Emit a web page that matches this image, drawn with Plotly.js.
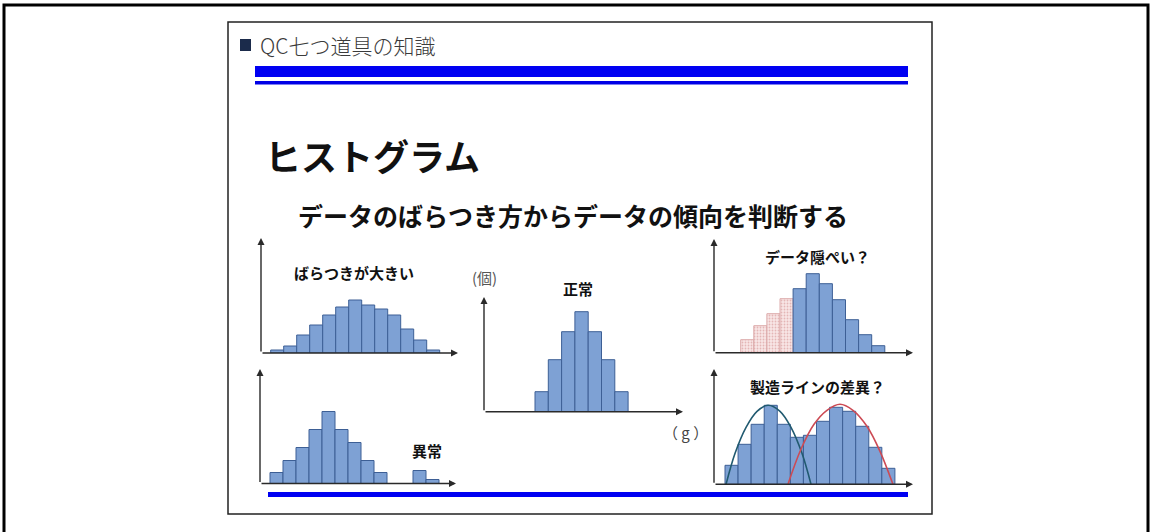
<!DOCTYPE html>
<html><head><meta charset="utf-8">
<script src="https://cdn.plot.ly/plotly-3.0.1.min.js"></script>
<style>html,body{margin:0;padding:0;background:#fff}#chart{width:1152px;height:532px}</style>
</head><body><div id="chart"></div>
<script>
// ---------- data (heights) ----------
const spreadX = [0,1,2,3,4,5,6,7,8,9,10,11,12];
const spreadValues = [3,7,18,28,38,46,53,48,44,38,24,13,3];
const outlierX = [0,1,2,3,4,5,6,7,8,9,10,11,12];
const outlierValues = [11,23,36,54,72,54,41,23,11,0,0,13,4];
const normalX = [0,1,2,3,4,5,6];
const normalValues = [20,52,80,100,80,52,20];
const hiddenX = [0,1,2,3];
const hiddenValues = [13,27,39,54];
const shownX = [4,5,6,7,8,9,10];
const shownValues = [64,79,69,53,33,18,7];
const linesX = [0,1,2,3,4,5,6,7,8,9,10,11,12];
const linesValues = [19,40,60,79,60,47,49,63,77,73,58,37,16];
const curveAX = [-0.42,0.27,1.11,1.95,2.79,3.71,4.55,5.39,6.08];
const curveAY = [0,31,57,73,79,73,57,31,0];
const curveBX = [4.32,5.31,6.31,7.30,8.30,9.29,10.36,11.36,12.35];
const curveBY = [0,35,60,74,80,74,58,33,0];

const headerText = "QC七つ道具の知識";
const titleText = "ヒストグラム";
const subtitleText = "データのばらつき方からデータの傾向を判断する";
const panelLabels = ["ばらつきが大きい","異常","正常","データ隠ぺい？","製造ラインの差異？"];
const unitY = "(個)";
const unitX = "（ g ）";

// ---------- layout geometry ----------
const W = 1152, H = 532;
const px = p => p / W, py = p => 1 - p / H;
const panels = [
  {ax:261, tip:458, top:238, base:353, start:270.7, w:13.0},
  {ax:260, tip:456, top:369, base:483.5, start:270.0, w:13.0},
  {ax:484, tip:683, top:297, base:411.7, start:535.0, w:13.3},
  {ax:714, tip:913, top:239, base:352.7, start:740.7, w:13.1},
  {ax:714, tip:913, top:369, base:484.3, start:725.0, w:13.07}
];

const BLUE = '#7ea1d4', EDGE = '#3d5f95';
const barMarker = {color: BLUE, line: {color: EDGE, width: 1}};
const traces = [];
function bars(i, x, y, marker) {
  traces.push({type:'bar', x:x, y:y, width:1, marker:marker,
    xaxis:'x'+(i===1?'':i), yaxis:'y'+(i===1?'':i), hoverinfo:'skip'});
}
bars(1, spreadX, spreadValues, barMarker);
bars(2, outlierX, outlierValues, barMarker);
bars(3, normalX, normalValues, barMarker);
bars(4, hiddenX, hiddenValues, {color:'#f8e6e6',
  pattern:{shape:'.', fgcolor:'#d08585', size:3, solidity:0.3, fillmode:'overlay'},
  line:{color:'#dcaaaa', width:1}});
bars(4, shownX, shownValues, barMarker);
bars(5, linesX, linesValues, barMarker);
traces.push({type:'scatter', mode:'lines', x:curveAX, y:curveAY, xaxis:'x5', yaxis:'y5',
  line:{color:'#215a70', width:1.6, shape:'spline'}, hoverinfo:'skip'});
traces.push({type:'scatter', mode:'lines', x:curveBX, y:curveBY, xaxis:'x5', yaxis:'y5',
  line:{color:'#cc4b55', width:1.6, shape:'spline'}, hoverinfo:'skip'});

const layout = {
  width: W, height: H, margin: {l:0, r:0, t:0, b:0},
  paper_bgcolor: '#fff', plot_bgcolor: 'rgba(0,0,0,0)',
  showlegend: false, barmode: 'overlay', bargap: 0,
  font: {family: '"Noto Sans CJK JP", "Noto Sans", sans-serif', color: '#111'},
  shapes: [], annotations: []
};
const hiddenAxis = {showgrid:false, zeroline:false, showline:false, showticklabels:false, ticks:'', fixedrange:true};
panels.forEach((p, k) => {
  const i = k + 1, sfx = i === 1 ? '' : i;
  const x0 = -0.5 - (p.start - p.ax) / p.w;
  const x1 = x0 + (p.tip - p.ax) / p.w;
  layout['xaxis'+sfx] = Object.assign({}, hiddenAxis, {domain:[px(p.ax), px(p.tip)], range:[x0, x1], anchor:'y'+sfx});
  layout['yaxis'+sfx] = Object.assign({}, hiddenAxis, {domain:[py(p.base), py(p.top)], range:[0, p.base - p.top], anchor:'x'+sfx});
  layout.annotations.push({xref:'paper', yref:'paper', x:px(p.tip), y:py(p.base), ax:-(p.tip - p.ax), ay:0,
    text:'', showarrow:true, arrowhead:2, arrowsize:1, arrowwidth:1.4, arrowcolor:'#2a2a2a'});
  layout.annotations.push({xref:'paper', yref:'paper', x:px(p.ax), y:py(p.top), ax:0, ay:(p.base - p.top),
    text:'', showarrow:true, arrowhead:2, arrowsize:1, arrowwidth:1.4, arrowcolor:'#2a2a2a'});
});

function rect(x0, y0, x1, y1, fill, line) {
  layout.shapes.push({type:'rect', xref:'paper', yref:'paper', x0:px(x0), x1:px(x1), y0:py(y1), y1:py(y0),
    fillcolor: fill || 'rgba(0,0,0,0)', line: line || {width:0}, layer:'below'});
}
rect(4, 5, 1148, 560, null, {color:'#000', width:3});
rect(228, 22, 932, 514, null, {color:'#222', width:1.5});
rect(255, 66, 908, 77, '#0000f2');
rect(255, 81, 908, 84.5, '#0000e6');
rect(268, 492, 908, 497, '#0000f2');
rect(240, 39, 251, 51, '#1b2b4b');

function text(t, x, y, size, opts) {
  layout.annotations.push(Object.assign({xref:'paper', yref:'paper', x:px(x), y:py(y), text:t,
    showarrow:false, xanchor:'center', yanchor:'middle', font:{size:size, color:'#111'}}, opts || {}));
}
text(headerText, 258, 45, 21, {xanchor:'left', font:{size:21, color:'#3a3a3a', weight:300}});
text(titleText, 263, 155, 36, {xanchor:'left', font:{size:36, color:'#111', weight:700}});
text(subtitleText, 573, 215, 25, {font:{size:25, color:'#111', weight:700}});
text(panelLabels[0], 354, 272, 15, {font:{size:15, color:'#111', weight:700}});
text(panelLabels[1], 427, 450, 15, {font:{size:15, color:'#111', weight:700}});
text(panelLabels[2], 578, 288, 15, {font:{size:15, color:'#111', weight:700}});
text(panelLabels[3], 817, 257, 15, {font:{size:15, color:'#111', weight:700}});
text(panelLabels[4], 817, 387, 15, {font:{size:15, color:'#111', weight:700}});
text(unitY, 484, 277, 15, {font:{size:15, color:'#555'}});
text(unitX, 685, 432, 15, {font:{size:15, color:'#444'}});

Plotly.newPlot('chart', traces, layout, {staticPlot:true, displayModeBar:false});
</script>
</body></html>
